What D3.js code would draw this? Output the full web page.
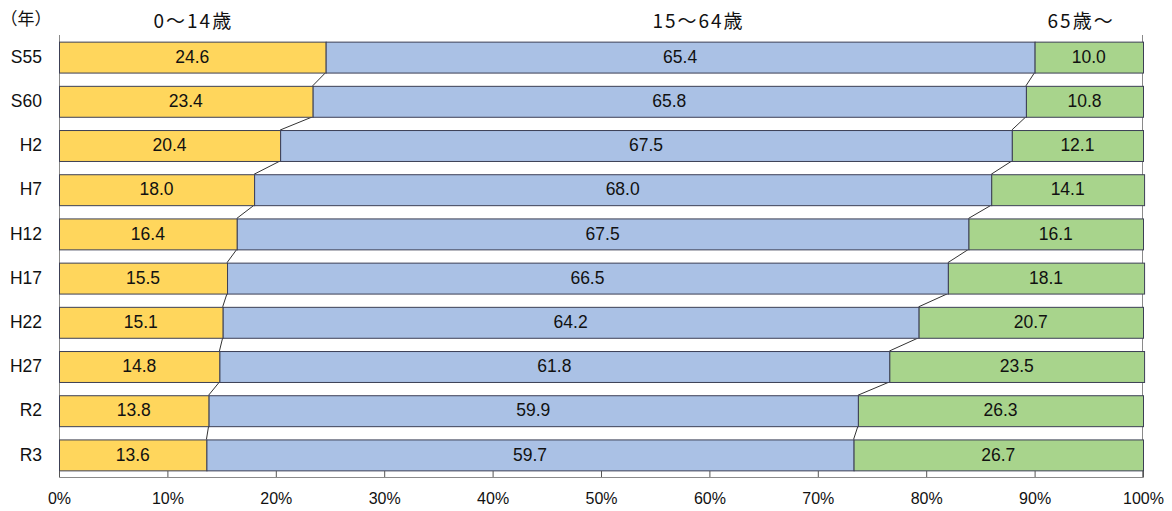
<!DOCTYPE html>
<html>
<head>
<meta charset="utf-8">
<script src="https://cdn.jsdelivr.net/npm/d3@7/dist/d3.min.js"></script>
<style>
  html, body { margin: 0; padding: 0; background: #fff; }
  svg { display: block; }
  text { font-family: "Liberation Sans", Arial, sans-serif; fill: #111; }
  .jp { font-family: "Noto Sans CJK JP", "Noto Sans", sans-serif; }
</style>
</head>
<body>
<svg id="chart" width="1172" height="511"></svg>
<script>
// Age-group composition of the population by survey year (%)
const years     = ["S55", "S60", "H2", "H7", "H12", "H17", "H22", "H27", "R2", "R3"];
const young     = [24.6, 23.4, 20.4, 18.0, 16.4, 15.5, 15.1, 14.8, 13.8, 13.6];
const working   = [65.4, 65.8, 67.5, 68.0, 67.5, 66.5, 64.2, 61.8, 59.9, 59.7];
const elderly   = [10.0, 10.8, 12.1, 14.1, 16.1, 18.1, 20.7, 23.5, 26.3, 26.7];
const groupNames = ["0～14歳", "15～64歳", "65歳～"];
const headerPos  = [12.3, 58.9, 94.2];   // header anchors along the % axis
const xTicks     = [0, 10, 20, 30, 40, 50, 60, 70, 80, 90, 100];

const colors = ["#FFD65C", "#AAC1E5", "#A8D48C"];

const svg = d3.select("#chart");
const plotL = 59, plotR = 1143, plotT = 35, plotB = 477;

const x = d3.scaleLinear().domain([0, 100]).range([plotL, plotR]);
const y = d3.scaleBand().domain(years).range([plotT, plotB])
  .paddingInner(0.3).paddingOuter(0.15);

const series = [young, working, elderly];

// cumulative segment boundaries per year
const rows = years.map((yr, i) => {
  let acc = 0;
  const segs = series.map((s, k) => {
    const seg = { k, x0: acc, x1: acc + s[i], v: s[i] };
    acc += s[i];
    return seg;
  });
  return { yr, segs };
});

// frame: left and right lines
const frame = svg.append("g").attr("stroke", "#8a8a8a").attr("stroke-width", 1).attr("fill", "none");
frame.append("line").attr("x1", x(0) + 0.5).attr("x2", x(0) + 0.5).attr("y1", plotT).attr("y2", plotB + 0.5);
frame.append("line").attr("x1", x(100) - 0.5).attr("x2", x(100) - 0.5).attr("y1", plotT).attr("y2", plotB + 0.5);

// connector lines between consecutive bars
const conn = svg.append("g").attr("stroke", "#333").attr("stroke-width", 1);
for (let i = 0; i < rows.length - 1; i++) {
  [0, 1].forEach(b => {
    conn.append("line")
      .attr("x1", x(rows[i].segs[b].x1))
      .attr("y1", y(rows[i].yr) + y.bandwidth())
      .attr("x2", x(rows[i + 1].segs[b].x1))
      .attr("y2", y(rows[i + 1].yr));
  });
}

// stacked bars
const rowG = svg.append("g").selectAll("g").data(rows).join("g")
  .attr("transform", d => `translate(0,${y(d.yr)})`);

rowG.selectAll("rect").data(d => d.segs).join("rect")
  .attr("x", d => x(d.x0) + 0.5)
  .attr("y", 0.5)
  .attr("width", d => x(d.x1) - x(d.x0))
  .attr("height", y.bandwidth())
  .attr("fill", d => colors[d.k])
  .attr("stroke", "#3c3f55")
  .attr("stroke-width", 1);

rowG.selectAll("text").data(d => d.segs).join("text")
  .attr("x", d => x((d.x0 + d.x1) / 2))
  .attr("y", y.bandwidth() / 2 + 1)
  .attr("text-anchor", "middle")
  .attr("dominant-baseline", "middle")
  .attr("font-size", 17.5)
  .text(d => d.v.toFixed(1));

// category axis labels
svg.append("g").selectAll("text").data(years).join("text")
  .attr("x", 42)
  .attr("y", d => y(d) + y.bandwidth() / 2 + 1)
  .attr("text-anchor", "end")
  .attr("dominant-baseline", "middle")
  .attr("font-size", 17.5)
  .text(d => d);

svg.append("text").attr("class", "jp")
  .attr("x", 26).attr("y", 20)
  .attr("text-anchor", "middle")
  .attr("dominant-baseline", "middle")
  .attr("font-size", 17)
  .text("（年）");

// group headers
svg.append("g").selectAll("text").data(groupNames).join("text")
  .attr("class", "jp")
  .attr("x", (d, i) => x(headerPos[i]) + 1)
  .attr("y", 23)
  .attr("text-anchor", "middle")
  .attr("dominant-baseline", "middle")
  .attr("font-size", 19)
  .attr("letter-spacing", 2)
  .text(d => d);

// percentage axis
const xAxis = d3.axisBottom(x).tickValues(xTicks).tickFormat(d => d + "%").tickSize(-6).tickPadding(16);
const ax = svg.append("g").attr("transform", `translate(0,${plotB})`).call(xAxis);
ax.select(".domain").attr("stroke", "#8a8a8a");
ax.selectAll(".tick line").attr("stroke", "#555");
ax.selectAll(".tick text")
  .attr("font-family", "'Liberation Sans Narrow', 'Liberation Sans', Arial, sans-serif")
  .attr("font-size", 16)
  .attr("fill", "#111");
</script>
</body>
</html>
